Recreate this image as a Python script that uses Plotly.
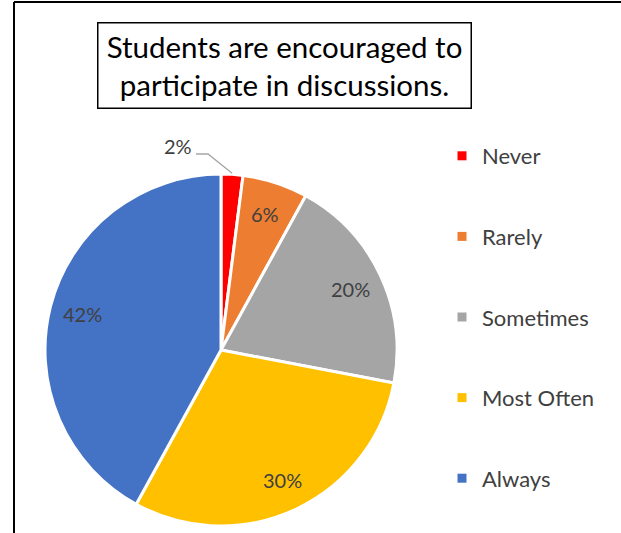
import math
import plotly.graph_objects as go

categories = ["Never", "Rarely", "Sometimes", "Most Often", "Always"]
values = [2, 6, 20, 30, 42]
colors = ["#FF0000", "#ED7D31", "#A5A5A5", "#FFC000", "#4472C4"]
title_text = "Students are encouraged to<br>participate in discussions."

W, H = 621, 533
FONT = "Lato"


def fx(px):
    return px / W


def fy(py):
    return 1 - py / H


# pie geometry (page pixels)
cx, cy, r = 221, 350, 176

fig = go.Figure()
fig.add_trace(go.Pie(
    labels=categories, values=values, sort=False, direction="clockwise",
    rotation=0, marker=dict(colors=colors, line=dict(color="white", width=3)),
    textinfo="none", showlegend=False, hoverinfo="label+percent",
    domain=dict(x=[fx(cx - r), fx(cx + r)], y=[fy(cy + r), fy(cy - r)]),
))

# legend entries via dummy traces
for cat, col in zip(categories, colors):
    fig.add_trace(go.Scatter(
        x=[None], y=[None], mode="markers", name=cat, legendgroup=cat,
        marker=dict(symbol="square", size=9, color=col),
    ))

annotations = []
total = sum(values)
cum = 0
for i, v in enumerate(values):
    mid = (cum + v / 2) / total * 2 * math.pi
    cum += v
    if i == 0:
        continue
    px = cx + 0.815 * r * math.sin(mid)
    py = cy - 0.815 * r * math.cos(mid)
    annotations.append(dict(
        x=fx(px), y=fy(py), xref="paper", yref="paper", text=f"{v}%",
        xanchor="center", yanchor="middle",
        showarrow=False, font=dict(family=FONT, size=20, color="#404040"),
    ))

# outside label for the smallest slice with leader line
mid0 = (values[0] / 2) / total * 2 * math.pi
ex = cx + (r + 1) * math.sin(mid0)
ey = cy - (r + 1) * math.cos(mid0)
annotations.append(dict(
    x=fx(178), y=fy(146), xref="paper", yref="paper", text=f"{values[0]}%",
    xanchor="center", yanchor="middle",
    showarrow=False, font=dict(family=FONT, size=20, color="#404040"),
))

annotations.append(dict(
    x=fx(284), y=fy(65), xref="paper", yref="paper", text=title_text,
    xanchor="center", yanchor="middle",
    showarrow=False, font=dict(family=FONT, size=29.5, color="black"),
    width=364, height=76,
    bordercolor="black", borderwidth=1.5, borderpad=4, bgcolor="white",
    align="center", valign="middle",
))

shapes = [
    dict(type="path", xref="paper", yref="paper",
         path=f"M {fx(196)} {fy(154)} L {fx(208)} {fy(154)} L {fx(ex)} {fy(ey)}",
         line=dict(color="#A6A6A6", width=1.3)),
    dict(type="line", xref="paper", yref="paper", x0=fx(14), x1=1.02, y0=fy(2), y1=fy(2),
         line=dict(color="black", width=2)),
    dict(type="line", xref="paper", yref="paper", x0=fx(14), x1=fx(14), y0=-0.02, y1=fy(2),
         line=dict(color="black", width=2)),
]

fig.update_layout(
    width=W, height=H, margin=dict(l=0, r=0, t=0, b=0),
    paper_bgcolor="white", plot_bgcolor="white",
    xaxis=dict(visible=False), yaxis=dict(visible=False),
    annotations=annotations, shapes=shapes,
    legend=dict(x=fx(442), y=fy(135), xanchor="left", yanchor="top",
                font=dict(family=FONT, size=22, color="#404040"),
                tracegroupgap=49, bgcolor="rgba(0,0,0,0)"),
)

fig.write_html("out.html", config={"displayModeBar": False},
               post_script="document.body.style.margin='0';document.body.style.overflow='hidden';")
